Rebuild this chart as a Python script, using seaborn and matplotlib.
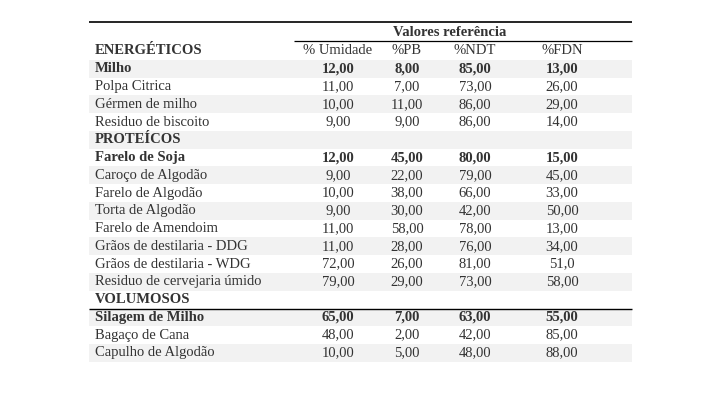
import matplotlib.pyplot as plt
import seaborn as sns

sns.set_style('white')
plt.rcParams['font.family'] = ['Liberation Serif', 'DejaVu Serif']

# table content
columns = ['% Umidade', '%PB', '%NDT', '%FDN']
rows = [
    ('ENERGÉTICOS', None, 'group'),
    ('Milho', ['12,00', '8,00', '85,00', '13,00'], 'bold'),
    ('Polpa Citrica', ['11,00', '7,00', '73,00', '26,00'], 'normal'),
    ('Gérmen de milho', ['10,00', '11,00', '86,00', '29,00'], 'normal'),
    ('Residuo de biscoito', ['9,00', '9,00', '86,00', '14,00'], 'normal'),
    ('PROTEÍCOS', None, 'group'),
    ('Farelo de Soja', ['12,00', '45,00', '80,00', '15,00'], 'bold'),
    ('Caroço de Algodão', ['9,00', '22,00', '79,00', '45,00'], 'normal'),
    ('Farelo de Algodão', ['10,00', '38,00', '66,00', '33,00'], 'normal'),
    ('Torta de Algodão', ['9,00', '30,00', '42,00', '50,00'], 'normal'),
    ('Farelo de Amendoim', ['11,00', '58,00', '78,00', '13,00'], 'normal'),
    ('Grãos de destilaria - DDG', ['11,00', '28,00', '76,00', '34,00'], 'normal'),
    ('Grãos de destilaria - WDG', ['72,00', '26,00', '81,00', '51,0'], 'normal'),
    ('Residuo de cervejaria úmido', ['79,00', '29,00', '73,00', '58,00'], 'normal'),
    ('VOLUMOSOS', None, 'group'),
    ('Silagem de Milho', ['65,00', '7,00', '63,00', '55,00'], 'bold'),
    ('Bagaço de Cana', ['48,00', '2,00', '42,00', '85,00'], 'normal'),
    ('Capulho de Algodão', ['10,00', '5,00', '48,00', '88,00'], 'normal'),
]

fig = plt.figure(figsize=(7.2, 4.13), dpi=100)
ax = fig.add_axes([0, 0, 1, 1])
ax.set_xlim(0, 720)
ax.set_ylim(413, 0)
ax.axis('off')

col_x = [338, 407, 475, 562]
left, right = 89, 632
y0, dy = 51, 17.76
fs = 10.5
tc = '#333333'

ax.hlines(22, left, right, color='black', lw=1.2)
ax.text(450, 33, 'Valores referência', ha='center', va='center', fontsize=fs,
        fontweight='bold', color=tc)
ax.hlines(41, 294, right, color='black', lw=0.9)
for x, c in zip(col_x, columns):
    ax.text(x, y0, c, ha='center', va='center', fontsize=fs, color=tc)

for i, (name, vals, kind) in enumerate(rows):
    y = y0 + i * dy
    if i % 2 == 1:
        ax.fill_between([left, right], y - dy / 2, y + dy / 2, color='#f2f2f2', lw=0, zorder=0)
    w = 'normal' if kind == 'normal' else 'bold'
    ax.text(95, y, name, ha='left', va='center', fontsize=fs, fontweight=w, color=tc)
    if vals:
        for x, v in zip(col_x, vals):
            ax.text(x, y, v, ha='center', va='center', fontsize=fs, fontweight=w, color=tc)
    if name == 'VOLUMOSOS':
        ax.hlines(y + dy / 2, left, right, color='black', lw=1.0)

plt.savefig('out.png', dpi=100)
